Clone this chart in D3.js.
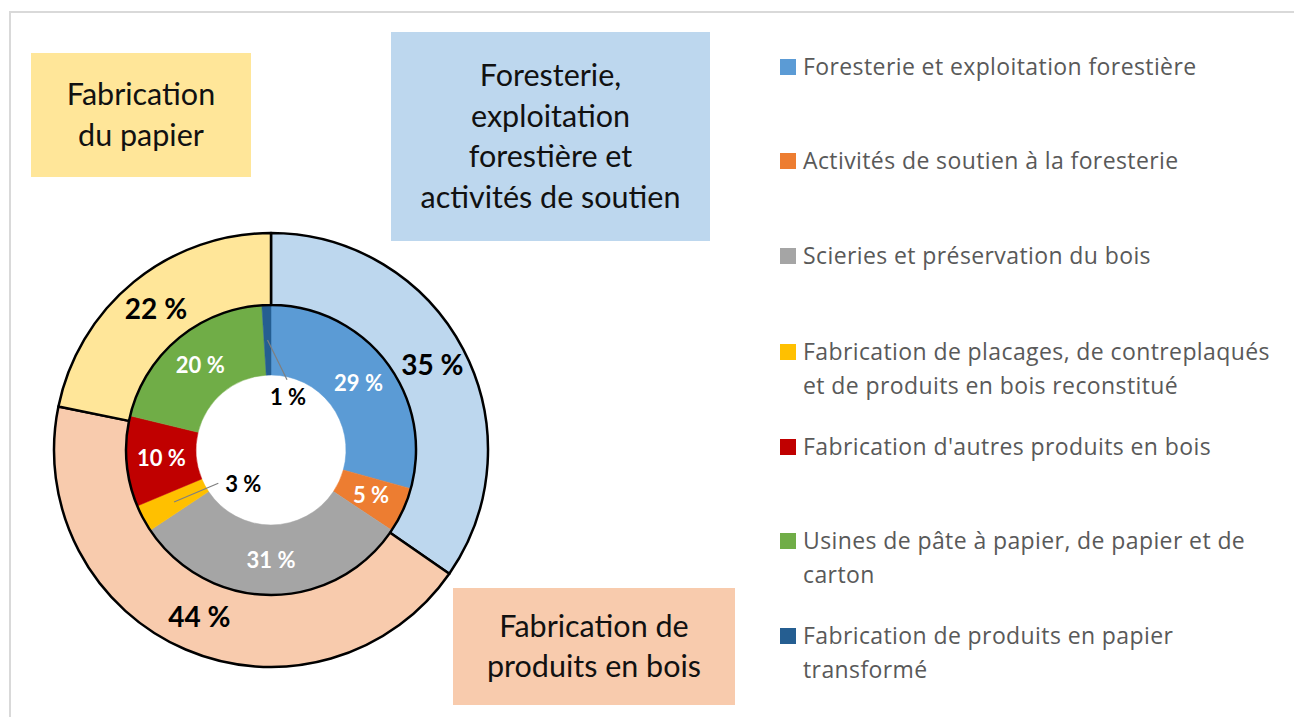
<!DOCTYPE html>
<html>
<head>
<meta charset="utf-8">
<script src="https://cdn.jsdelivr.net/npm/d3@7"></script>
<style>
  body { margin: 0; background: #fff; }
  text { font-family: Lato, "Open Sans", sans-serif; }
  .legend text { font-family: "Open Sans", sans-serif; letter-spacing: 0.4px; }
</style>
</head>
<body>
<script>
// outer ring: main groups
const groups = ['Foresterie, exploitation forestière et activités de soutien', 'Fabrication de produits en bois', 'Fabrication du papier'];
const groupValues = [35, 44, 22];
const groupColors = ['#BDD7EE', '#F8CBAD', '#FFE699'];

// inner ring: sub-sectors (same order as legend, clockwise)
const sectors = [
  'Foresterie et exploitation forestière',
  'Activités de soutien à la foresterie',
  'Scieries et préservation du bois',
  'Fabrication de placages, de contreplaqués et de produits en bois reconstitué',
  "Fabrication d'autres produits en bois",
  'Usines de pâte à papier, de papier et de carton',
  'Fabrication de produits en papier transformé'
];
const sectorValues = [29, 5, 31, 3, 10, 20, 1];
const sectorColors = ['#5B9BD5', '#ED7D31', '#A5A5A5', '#FFC000', '#C00000', '#70AD47', '#255E91'];

// legend text split into lines as in the reference
const legendLines = [
  ['Foresterie et exploitation forestière'],
  ['Activités de soutien à la foresterie'],
  ['Scieries et préservation du bois'],
  ['Fabrication de placages, de contreplaqués', 'et de produits en bois reconstitué'],
  ["Fabrication d'autres produits en bois"],
  ['Usines de pâte à papier, de papier et de', 'carton'],
  ['Fabrication de produits en papier', 'transformé']
];

const width = 1294;
const height = 717;

const svg = d3.select('body')
  .append('svg')
  .attr('width', width)
  .attr('height', height);

// chart frame
svg.append('rect')
  .attr('x', 10).attr('y', 12)
  .attr('width', 1300).attr('height', 720)
  .attr('fill', 'none')
  .attr('stroke', '#d9d9d9')
  .attr('stroke-width', 2);

// group title boxes
const boxes = [
  { x: 31, y: 53, w: 220, h: 124, fill: groupColors[2], lines: ['Fabrication', 'du papier'] },
  { x: 391, y: 32, w: 319, h: 209, fill: groupColors[0], lines: ['Foresterie,', 'exploitation', 'forestière et', 'activités de soutien'] },
  { x: 453, y: 588, w: 282, h: 117, fill: groupColors[1], lines: ['Fabrication de', 'produits en bois'] }
];
boxes.forEach(b => {
  svg.append('rect')
    .attr('x', b.x).attr('y', b.y)
    .attr('width', b.w).attr('height', b.h)
    .attr('fill', b.fill);
  const lh = 40.5;
  const y0 = b.y + b.h / 2 - (b.lines.length - 1) * lh / 2;
  svg.append('g').selectAll('text')
    .data(b.lines)
    .enter()
    .append('text')
    .attr('x', b.x + b.w / 2)
    .attr('y', (d, i) => y0 + i * lh)
    .attr('dy', '0.35em')
    .attr('text-anchor', 'middle')
    .attr('font-size', 30.5)
    .attr('fill', '#111')
    .text(d => d);
});

// donut
const cx = 271, cy = 450;
const rOuter = 217, rMid = 145, rHole = 75;

const pie = d3.pie().sort(null).value(d => d);
const chart = svg.append('g').attr('transform', `translate(${cx},${cy})`);

const innerArc = d3.arc().innerRadius(rHole).outerRadius(rMid);
const innerLabelArc = d3.arc().innerRadius(110).outerRadius(110);
const outerArc = d3.arc().innerRadius(rMid).outerRadius(rOuter);
const outerLabelArc = d3.arc().innerRadius(182).outerRadius(182);

const innerData = pie(sectorValues);
const outerData = pie(groupValues);

chart.selectAll('.inner')
  .data(innerData)
  .enter()
  .append('path')
  .attr('class', 'inner')
  .attr('d', innerArc)
  .attr('fill', (d, i) => sectorColors[i])
  .attr('stroke', (d, i) => sectorColors[i])
  .attr('stroke-width', 0.5);

chart.selectAll('.outer')
  .data(outerData)
  .enter()
  .append('path')
  .attr('class', 'outer')
  .attr('d', outerArc)
  .attr('fill', (d, i) => groupColors[i])
  .attr('stroke', '#000')
  .attr('stroke-width', 2.5)
  .attr('stroke-linejoin', 'round');

// labels on inner ring (small slices get a callout into the hole)
const callouts = { 3: { a: 219, r: 44 }, 6: { a: 18, r: 55 } };
const pct = v => v + ' %';

innerData.forEach((d, i) => {
  if (callouts[i]) {
    const c = callouts[i];
    const rad = c.a * Math.PI / 180;
    const lx = c.r * Math.sin(rad), ly = -c.r * Math.cos(rad);
    const [sx, sy] = innerLabelArc.centroid(d);
    const ex = i === 3 ? lx - 25 : lx - 1;
    const ey = i === 3 ? ly - 1 : ly - 18;
    chart.append('line')
      .attr('x1', sx).attr('y1', sy)
      .attr('x2', ex).attr('y2', ey)
      .attr('stroke', '#7f7f7f')
      .attr('stroke-width', 1.2);
    chart.append('text')
      .attr('x', lx).attr('y', ly)
      .attr('dy', '0.35em')
      .attr('text-anchor', 'middle')
      .attr('font-size', 22)
      .attr('font-weight', 'bold')
      .attr('fill', '#000')
      .text(pct(sectorValues[i]));
  } else {
    const [x, y] = innerLabelArc.centroid(d);
    chart.append('text')
      .attr('x', x).attr('y', y)
      .attr('dy', '0.35em')
      .attr('text-anchor', 'middle')
      .attr('font-size', 22)
      .attr('font-weight', 'bold')
      .attr('fill', '#fff')
      .text(pct(sectorValues[i]));
  }
});

chart.selectAll('.outer-label')
  .data(outerData)
  .enter()
  .append('text')
  .attr('class', 'outer-label')
  .attr('transform', d => `translate(${outerLabelArc.centroid(d)})`)
  .attr('dy', '0.35em')
  .attr('text-anchor', 'middle')
  .attr('font-size', 28)
  .attr('font-weight', 'bold')
  .attr('fill', '#000')
  .text((d, i) => pct(groupValues[i]));

// legend
const legendY = [67, 161, 256, 352, 447, 541, 636];
const legend = svg.append('g').attr('class', 'legend');
legendLines.forEach((lines, i) => {
  legend.append('rect')
    .attr('x', 780).attr('y', legendY[i] - 8)
    .attr('width', 16).attr('height', 16)
    .attr('fill', sectorColors[i]);
  lines.forEach((t, j) => {
    legend.append('text')
      .attr('x', 803)
      .attr('y', legendY[i] + j * 33.5)
      .attr('dy', '0.35em')
      .attr('font-size', 23)
      .attr('fill', '#595959')
      .text(t);
  });
});
</script>
</body>
</html>
